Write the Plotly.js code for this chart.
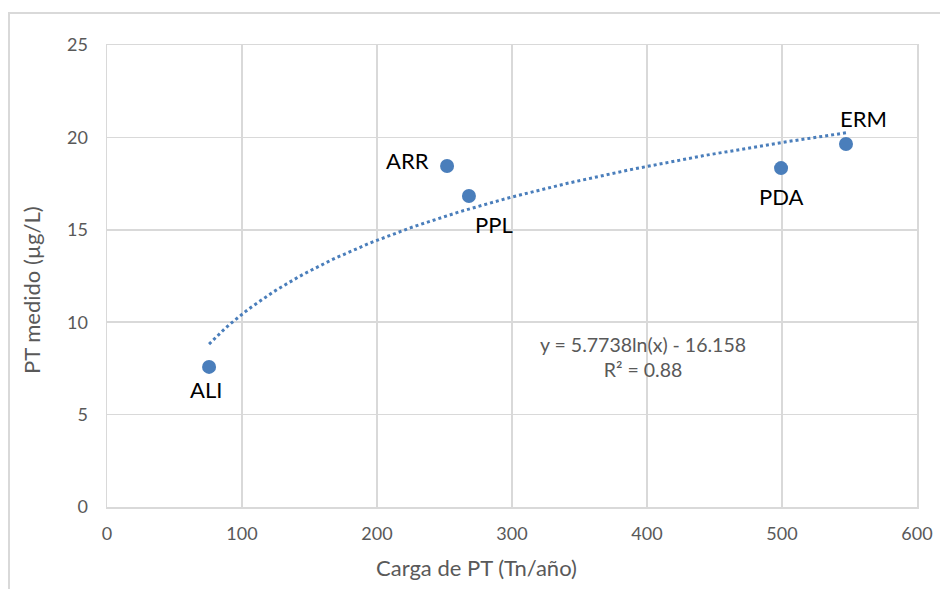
<!DOCTYPE html>
<html>
<head>
<meta charset="utf-8">
<script src="https://cdn.plot.ly/plotly-3.0.1.min.js"></script>
<style>
  html, body { margin: 0; padding: 0; background: #fff; }
  #wrap { position: relative; width: 940px; height: 589px; overflow: hidden; }
  #frame { position: absolute; left: 8px; top: 12px; width: 940px; height: 600px;
           border-left: 2px solid #d9d9d9; border-top: 2px solid #d9d9d9; pointer-events: none; }
  #chart { position: absolute; left: 0; top: 0; width: 940px; height: 589px; }
</style>
</head>
<body>
<div id="wrap">
  <div id="chart"></div>
  <div id="frame"></div>
</div>
<script>
// Data
const sites = ["ALI", "ARR", "PPL", "PDA", "ERM"];
const cargaPT = [75.6, 251.9, 268.1, 499.3, 547.4];     // Tn/año
const ptMedido = [7.58, 18.45, 16.83, 18.34, 19.64];   // µg/L

// Trendline coefficients as printed on the chart: y = a ln(x) + b
const trendA = 5.7738;
const trendB = -16.158;
const trendR2 = 0.88;

// Label offsets (pixels) relative to each point
const labelDX = [-3, -40, 25, 0, 18];
const labelDY = [23, -6, 29, 28, -26];

const blue = "#4a7ebb";
const grey = "#595959";
const grid = "#d9d9d9";
const font = "Lato, 'Open Sans', sans-serif";

// Build trendline from the printed equation across the data range
const xMin = Math.min(...cargaPT), xMax = Math.max(...cargaPT);
const tx = [], ty = [];
const nSteps = 120;
for (let i = 0; i <= nSteps; i++) {
  const x = xMin + (xMax - xMin) * i / nSteps;
  tx.push(x);
  ty.push(trendA * Math.log(x) + trendB);
}

const traces = [
  {
    x: tx, y: ty, type: "scatter", mode: "lines",
    line: { color: blue, width: 3, dash: "dot" },
    hoverinfo: "skip", showlegend: false
  },
  {
    x: cargaPT, y: ptMedido, type: "scatter", mode: "markers",
    marker: { color: blue, size: 14, line: { width: 0 } },
    showlegend: false
  }
];

const annotations = sites.map((s, i) => ({
  x: cargaPT[i], y: ptMedido[i], xref: "x", yref: "y",
  text: s, showarrow: false,
  xshift: labelDX[i], yshift: -labelDY[i],
  font: { family: font, size: 22, color: "#000" },
  xanchor: "center", yanchor: "middle"
}));

annotations.push({
  x: (643 - 107) / 810, y: (507 - 357) / 462, xref: "paper", yref: "paper",
  text: "y = " + trendA + "ln(x) - " + Math.abs(trendB) + "<br>R² = " + trendR2,
  showarrow: false, align: "center",
  font: { family: font, size: 19.5, color: grey },
  xanchor: "center", yanchor: "middle"
});

annotations.push({
  x: (476 - 107) / 810, y: (507 - 567) / 462, xref: "paper", yref: "paper",
  text: "Carga de PT (Tn/año)", showarrow: false,
  font: { family: font, size: 22, color: grey },
  xanchor: "center", yanchor: "middle"
});
annotations.push({
  x: (31 - 107) / 810, y: (507 - 290) / 462, xref: "paper", yref: "paper",
  text: "PT medido (µg/L)", showarrow: false, textangle: -90,
  font: { family: font, size: 22, color: grey },
  xanchor: "center", yanchor: "middle"
});

const layout = {
  width: 940, height: 589,
  margin: { l: 107, r: 23, t: 45, b: 82 },
  paper_bgcolor: "rgba(0,0,0,0)", plot_bgcolor: "#fff",
  font: { family: font, color: grey },
  xaxis: {
    range: [0, 600], dtick: 100, tick0: 0,
    showgrid: true, gridcolor: grid, gridwidth: 1.5,
    showline: true, linecolor: grid, linewidth: 1.5, mirror: true,
    zeroline: false, ticks: "outside", ticklen: 10, tickcolor: "rgba(0,0,0,0)",
    tickfont: { family: font, size: 18, color: grey },
    fixedrange: true
  },
  yaxis: {
    range: [0, 25], dtick: 5, tick0: 0,
    showgrid: true, gridcolor: grid, gridwidth: 1.5,
    showline: true, linecolor: grid, linewidth: 1.5, mirror: true,
    zeroline: false, ticks: "outside", ticklen: 14, tickcolor: "rgba(0,0,0,0)",
    tickfont: { family: font, size: 18, color: grey },
    fixedrange: true
  },
  annotations: annotations,
  showlegend: false
};

Plotly.newPlot("chart", traces, layout, { displayModeBar: false, staticPlot: true });
</script>
</body>
</html>
